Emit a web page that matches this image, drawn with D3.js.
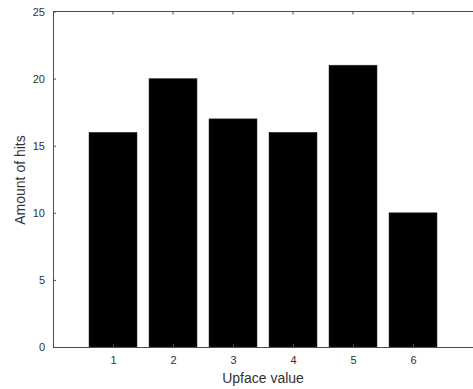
<!DOCTYPE html>
<html>
<head>
<meta charset="utf-8">
<script src="https://cdn.jsdelivr.net/npm/d3@7"></script>
<style>
  body { margin: 0; background: #fff; }
  svg { display: block; font-family: "Liberation Sans", Arial, sans-serif; }
</style>
</head>
<body>
<div id="chart"></div>
<script>
var faces = [1, 2, 3, 4, 5, 6];
var hits = [16, 20, 17, 16, 21, 10];
var yTicks = [0, 5, 10, 15, 20, 25];

var width = 473, height = 389;
var plotLeft = 53, plotTop = 11.5, plotRight = 473, plotBottom = 347;

var svg = d3.select('#chart').append('svg')
  .attr('width', width)
  .attr('height', height);

var x = d3.scaleLinear().domain([0, 7]).range([plotLeft, plotRight]);
var y = d3.scaleLinear().domain([0, 25]).range([plotBottom, plotTop]);
var barW = (x(1) - x(0)) * 0.8;

// bars
svg.selectAll('rect.bar').data(hits).enter().append('rect')
  .attr('class', 'bar')
  .attr('x', function (d, i) { return x(faces[i]) - barW / 2; })
  .attr('y', function (d) { return y(d); })
  .attr('width', barW)
  .attr('height', function (d) { return y(0) - y(d); })
  .attr('fill', '#000')
  .attr('stroke', '#333')
  .attr('stroke-width', 0.5);

var axisColor = '#4d4d4d';
var textColor = '#333';

// top box line
svg.append('line').attr('x1', plotLeft).attr('x2', plotRight).attr('y1', plotTop).attr('y2', plotTop)
  .attr('stroke', axisColor);

var xAxis = svg.append('g')
  .attr('transform', 'translate(0,' + plotBottom + ')')
  .call(d3.axisBottom(x).tickValues(faces).tickFormat(d3.format('d'))
    .tickSizeInner(-3).tickSizeOuter(0).tickPadding(9));
var yAxis = svg.append('g')
  .attr('transform', 'translate(' + plotLeft + ',0)')
  .call(d3.axisLeft(y).tickValues(yTicks).tickFormat(d3.format('d'))
    .tickSizeInner(-3).tickSizeOuter(0).tickPadding(8));

// top ticks
svg.selectAll('line.tt').data(faces).enter().append('line')
  .attr('class', 'tt')
  .attr('x1', function (d) { return x(d); })
  .attr('x2', function (d) { return x(d); })
  .attr('y1', plotTop).attr('y2', plotTop + 3)
  .attr('stroke', axisColor);

[xAxis, yAxis].forEach(function (g) {
  g.select('.domain').attr('stroke', axisColor);
  g.selectAll('.tick line').attr('stroke', axisColor);
  g.selectAll('.tick text').attr('fill', textColor).style('font-size', '11px')
    .style('font-family', '"Liberation Sans", Arial, sans-serif');
});

svg.append('text')
  .attr('x', (plotLeft + plotRight) / 2)
  .attr('y', 383)
  .attr('text-anchor', 'middle')
  .attr('fill', textColor)
  .style('font-size', '14px')
  .text('Upface value');

svg.append('text')
  .attr('transform', 'translate(25,180) rotate(-90)')
  .attr('text-anchor', 'middle')
  .attr('fill', textColor)
  .style('font-size', '14px')
  .text('Amount of hits');
</script>
</body>
</html>
